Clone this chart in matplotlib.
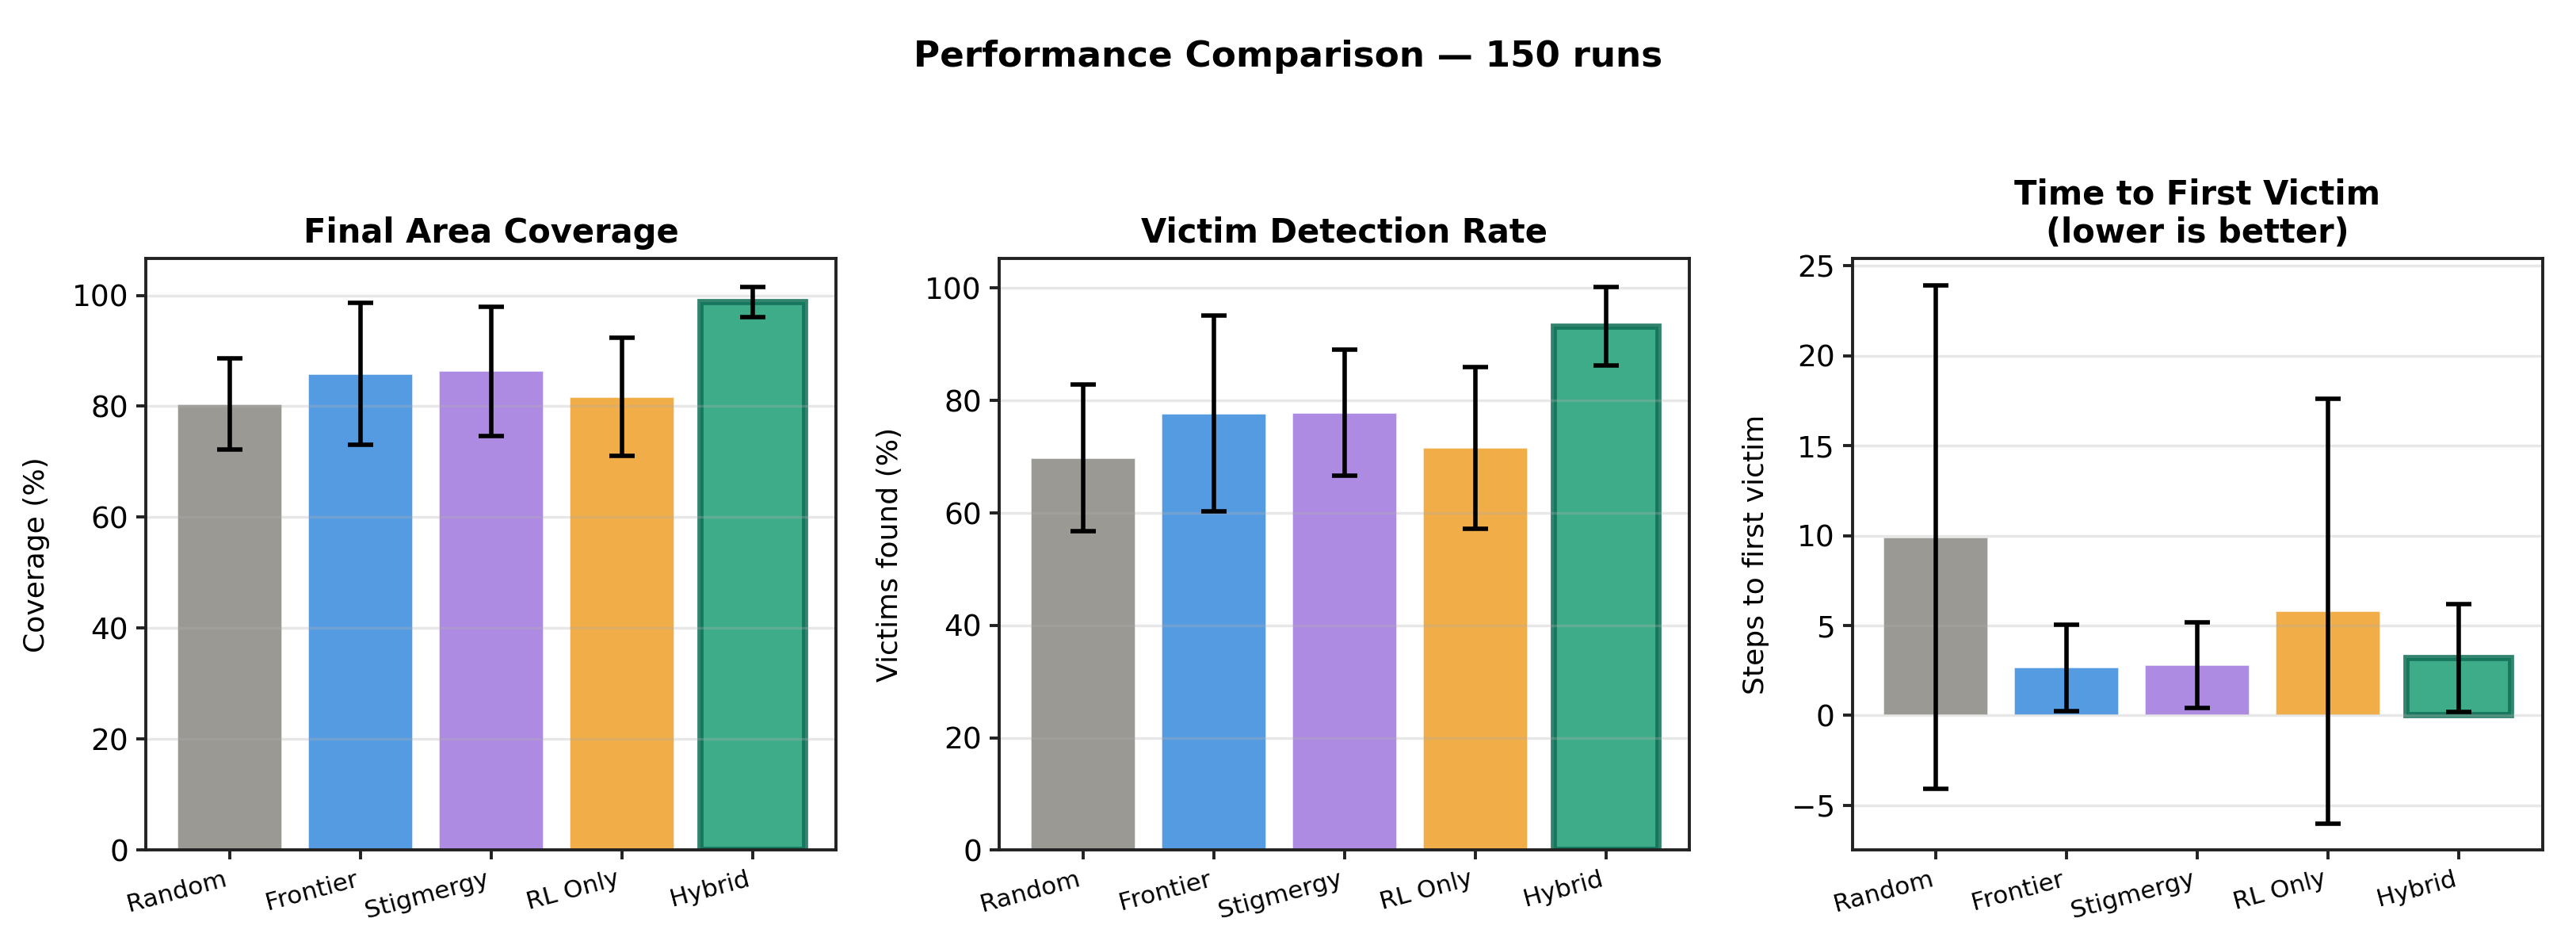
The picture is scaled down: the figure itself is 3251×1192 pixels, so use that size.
import numpy as np
import matplotlib
matplotlib.use("Agg")
import matplotlib.pyplot as plt

methods = ["Random", "Frontier", "Stigmergy", "RL Only", "Hybrid"]
colors = ["#888780", "#378ADD", "#9F77DD", "#EF9F27", "#1D9E75"]
hybrid_edge = "#0F6E56"

coverage_mean = [80.4, 85.8, 86.3, 81.7, 98.8]
coverage_std = [8.2, 12.8, 11.7, 10.7, 2.7]

victims_mean = [69.8, 77.7, 77.8, 71.6, 93.2]
victims_std = [13.1, 17.4, 11.2, 14.4, 7.0]

first_victim_mean = [9.9, 2.65, 2.8, 5.8, 3.2]
first_victim_std = [14.0, 2.4, 2.4, 11.8, 3.0]

panels = [
    ("Final Area Coverage", "Coverage (%)", coverage_mean, coverage_std),
    ("Victim Detection Rate", "Victims found (%)", victims_mean, victims_std),
    ("Time to First Victim\n(lower is better)", "Steps to first victim", first_victim_mean, first_victim_std),
]

fig, axes = plt.subplots(1, 3, figsize=(16.255, 5.96), dpi=200)
fig.subplots_adjust(left=0.0566, right=0.9871, bottom=0.1003, top=0.7261, wspace=0.236)

x = np.arange(len(methods))
for ax, (title, ylabel, means, stds) in zip(axes, panels):
    bars = ax.bar(x, means, yerr=stds, color=colors, alpha=0.85, edgecolor="white",
                  linewidth=0.6, capsize=5.7,
                  error_kw={"elinewidth": 2.0, "capthick": 2.0, "ecolor": "black"})
    bars[-1].set_edgecolor(hybrid_edge)
    bars[-1].set_linewidth(2.8)
    ax.set_title(title, fontsize=15, fontweight="bold", pad=7.5)
    ax.set_ylabel(ylabel, fontsize=13, labelpad=10)
    ax.set_xticks(x)
    ax.set_xticklabels(methods, rotation=15, ha="right", fontsize=11.2)
    ax.tick_params(axis="y", labelsize=13.5)
    ax.tick_params(width=1.4, length=4.4, color="#222222")
    for s in ax.spines.values():
        s.set_linewidth(1.4)
        s.set_color("#222222")
    # grid sits above the bars (default axisbelow='line')
    ax.grid(True, axis="y", color="#b0b0b0", linewidth=1.2, alpha=0.3)

fig.suptitle("Performance Comparison — 150 runs", fontsize=16.3, fontweight="bold", y=0.958)

plt.savefig("out.png", dpi=200)
